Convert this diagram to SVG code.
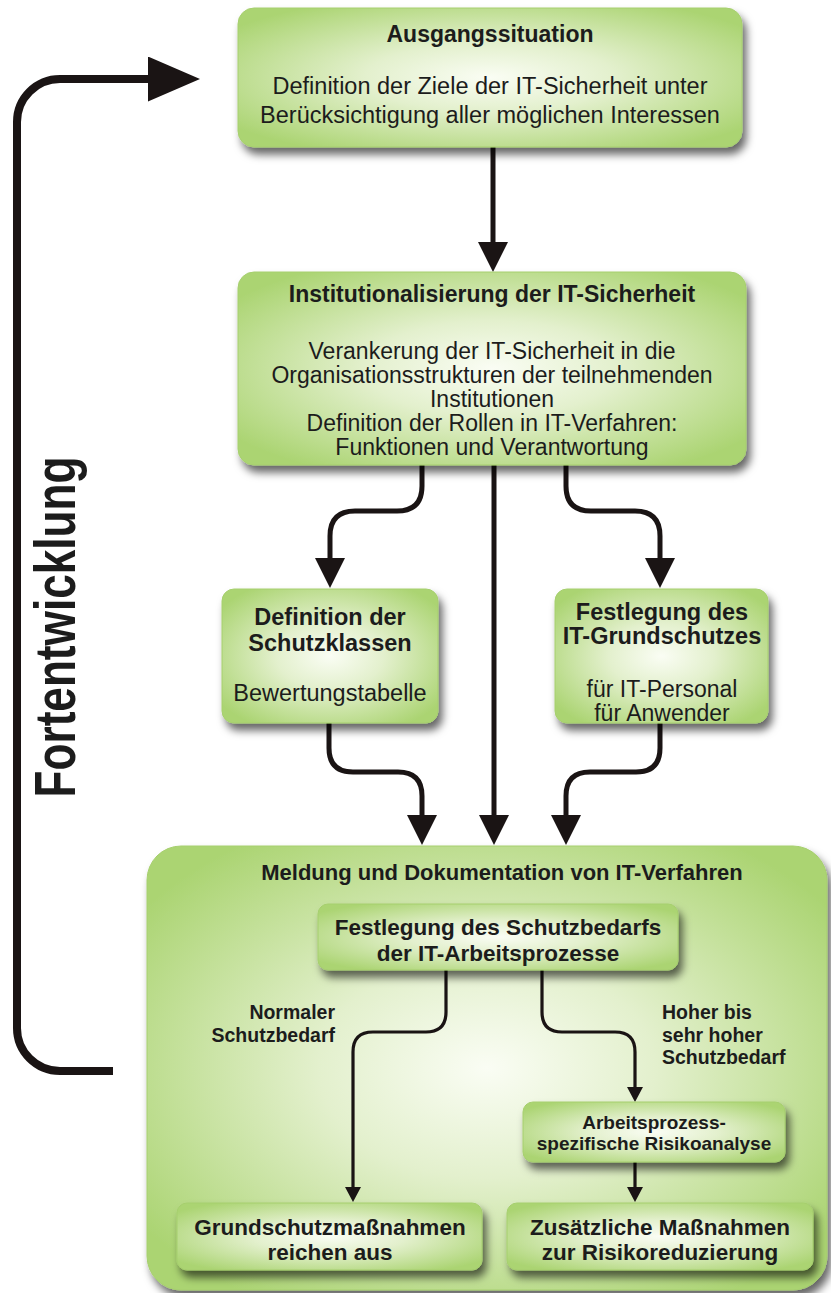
<svg xmlns="http://www.w3.org/2000/svg" width="831" height="1293" viewBox="0 0 831 1293">
<defs>
<radialGradient id="gr" cx="0.5" cy="0.5" r="0.62">
<stop offset="0" stop-color="#fafdf4"/>
<stop offset="0.4" stop-color="#e3f0cd"/>
<stop offset="1" stop-color="#abd472"/>
</radialGradient>
<filter id="sh" x="-10%" y="-10%" width="125%" height="140%">
<feDropShadow dx="4" dy="7" stdDeviation="4" flood-color="#000" flood-opacity="0.6"/>
</filter>
<marker id="ah" markerUnits="userSpaceOnUse" markerWidth="30" markerHeight="30" viewBox="0 0 30 30" refX="0" refY="15" orient="auto"><path d="M0,0 L30,15 L0,30 Z" fill="#1a1414"/></marker>
<marker id="as" markerUnits="userSpaceOnUse" markerWidth="15" markerHeight="16" viewBox="0 0 15 16" refX="0" refY="8" orient="auto"><path d="M0,0 L15,8 L0,16 Z" fill="#1a1414"/></marker>
<marker id="al" markerUnits="userSpaceOnUse" markerWidth="52" markerHeight="45" viewBox="0 0 52 45" refX="0" refY="22.5" orient="auto"><path d="M0,0 L52,22.5 L0,45 Z" fill="#1a1414"/></marker>
<style>
.box{fill:url(#gr);stroke:#a6cf6e;stroke-width:1;filter:url(#sh)}
text{font-family:"Liberation Sans",Arial,Helvetica,sans-serif;fill:#1c1c1c;text-anchor:middle}
.b{font-weight:bold}
.big{stroke:#1a1414;stroke-width:5;fill:none}
.thin{stroke:#1a1414;stroke-width:3.2;fill:none}
.lbl{font-weight:bold;font-size:19.5px}
</style>
</defs>
<rect width="831" height="1293" fill="#ffffff"/>

<g id="connectors">
<path class="big" d="M493,147 V242" marker-end="url(#ah)"/>
<path class="big" d="M422,465 V486 Q422,511 397,511 H355 Q330,511 330,536 V558" marker-end="url(#ah)"/>
<path class="big" d="M566,465 V486 Q566,511 591,511 H635 Q660,511 660,536 V558" marker-end="url(#ah)"/>
<path class="big" d="M494,465 V815" marker-end="url(#ah)"/>
<path class="big" d="M329,723 V748 Q329,772 353,772 H398 Q422,772 422,796 V815" marker-end="url(#ah)"/>
<path class="big" d="M660,723 V748 Q660,772 636,772 H590 Q566,772 566,796 V815" marker-end="url(#ah)"/>
</g>

<g id="loop">
<path d="M113,1071 H60 A43,43 0 0 1 17,1028 V122 A43,43 0 0 1 60,79 H148" stroke="#1a1414" stroke-width="8" fill="none" marker-end="url(#al)"/>
<text class="b" transform="translate(75,627) rotate(-90)" font-size="58" textLength="341" lengthAdjust="spacingAndGlyphs">Fortentwicklung</text>
</g>

<g id="n-ausgangssituation">
<rect class="box" x="238" y="8" width="504" height="139" rx="16"/>
<text class="b" x="490" y="42" font-size="23">Ausgangssituation</text>
<text x="490" y="94" font-size="23.5">Definition der Ziele der IT-Sicherheit unter</text>
<text x="490" y="123" font-size="23.5">Berücksichtigung aller möglichen Interessen</text>
</g>

<g id="n-institutionalisierung">
<rect class="box" x="238" y="272" width="508" height="193" rx="16"/>
<text class="b" x="492" y="302" font-size="23">Institutionalisierung der IT-Sicherheit</text>
<text x="492" y="359" font-size="23">Verankerung der IT-Sicherheit in die</text>
<text x="492" y="383" font-size="23">Organisationsstrukturen der teilnehmenden</text>
<text x="492" y="407" font-size="23">Institutionen</text>
<text x="492" y="431" font-size="23">Definition der Rollen in IT-Verfahren:</text>
<text x="492" y="455" font-size="23">Funktionen und Verantwortung</text>
</g>

<g id="n-schutzklassen">
<rect class="box" x="222" y="589" width="216" height="134" rx="12"/>
<text class="b" x="330" y="625" font-size="23.5">Definition der</text>
<text class="b" x="330" y="651" font-size="23.5">Schutzklassen</text>
<text x="330" y="701" font-size="23.5">Bewertungstabelle</text>
</g>

<g id="n-grundschutz">
<rect class="box" x="555" y="589" width="213" height="134" rx="12"/>
<text class="b" x="662" y="620" font-size="23.5">Festlegung des</text>
<text class="b" x="662" y="644" font-size="23.5">IT-Grundschutzes</text>
<text x="662" y="697" font-size="23">für IT-Personal</text>
<text x="662" y="721" font-size="23">für Anwender</text>
</g>

<g id="n-meldung">
<rect class="box" x="147" y="846" width="680" height="444" rx="34"/>
<text class="b" x="502" y="880" font-size="22">Meldung und Dokumentation von IT-Verfahren</text>
</g>

<g id="inner-connectors">
<path class="thin" d="M446,970 V1012 Q446,1032 426,1032 H373 Q353,1032 353,1052 V1187" marker-end="url(#as)"/>
<path class="thin" d="M542,970 V1012 Q542,1032 562,1032 H615 Q635,1032 635,1052 V1087" marker-end="url(#as)"/>
<path class="thin" d="M635,1162 V1187" marker-end="url(#as)"/>
<text class="lbl" x="335" y="1019" style="text-anchor:end">Normaler</text>
<text class="lbl" x="335" y="1042" style="text-anchor:end">Schutzbedarf</text>
<text class="lbl" x="662" y="1019" style="text-anchor:start">Hoher bis</text>
<text class="lbl" x="662" y="1042" style="text-anchor:start">sehr hoher</text>
<text class="lbl" x="662" y="1064" style="text-anchor:start">Schutzbedarf</text>
</g>

<g id="n-schutzbedarf">
<rect class="box" x="318" y="904" width="360" height="66" rx="10"/>
<text class="b" x="498" y="935" font-size="22.5">Festlegung des Schutzbedarfs</text>
<text class="b" x="498" y="961" font-size="22.5">der IT-Arbeitsprozesse</text>
</g>

<g id="n-risikoanalyse">
<rect class="box" x="523" y="1102" width="262" height="60" rx="10"/>
<text class="b" x="654" y="1129" font-size="19">Arbeitsprozess-</text>
<text class="b" x="654" y="1150" font-size="19">spezifische Risikoanalyse</text>
</g>

<g id="n-grundschutzmassnahmen">
<rect class="box" x="177" y="1203" width="305" height="67" rx="10"/>
<text class="b" x="330" y="1235" font-size="22.5">Grundschutzmaßnahmen</text>
<text class="b" x="330" y="1260" font-size="22.5">reichen aus</text>
</g>

<g id="n-zusaetzliche">
<rect class="box" x="507" y="1203" width="306" height="67" rx="10"/>
<text class="b" x="660" y="1235" font-size="22.5">Zusätzliche Maßnahmen</text>
<text class="b" x="660" y="1260" font-size="22.5">zur Risikoreduzierung</text>
</g>
</svg>
